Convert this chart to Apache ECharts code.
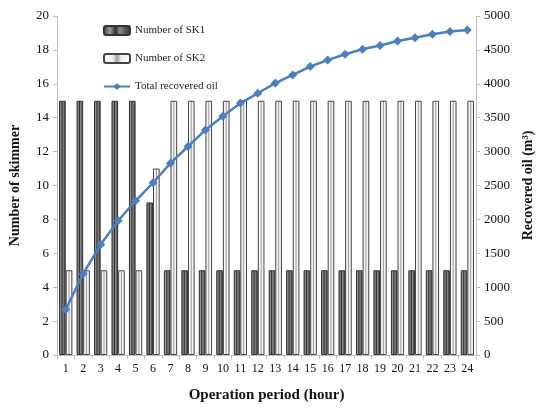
<!DOCTYPE html>
<html><head><meta charset="utf-8">
<script src="https://cdn.jsdelivr.net/npm/echarts@6/dist/echarts.min.js"></script>
<style>html,body{margin:0;padding:0;background:#fff}#c{width:543px;height:408px}</style>
</head><body><div id="c"></div>
<script>
const hours = ['1','2','3','4','5','6','7','8','9','10','11','12','13','14','15','16','17','18','19','20','21','22','23','24'];
const sk1 = [15,15,15,15,15,9,5,5,5,5,5,5,5,5,5,5,5,5,5,5,5,5,5,5];
const sk2 = [5,5,5,5,5,11,15,15,15,15,15,15,15,15,15,15,15,15,15,15,15,15,15,15];
const oil = [670,1200,1630,1980,2275,2540,2830,3075,3320,3520,3715,3860,4010,4130,4255,4350,4435,4510,4565,4630,4680,4730,4770,4795];
const leftTicks = [0,20,2];
const rightTicks = [0,5000,500];

const serif = '"Liberation Serif", "DejaVu Serif", serif';
const sk1Fill = {type:'linear',x:0,y:0,x2:1,y2:0,colorStops:[
  {offset:0,color:'#3a3a3a'},{offset:0.25,color:'#9a9a9a'},{offset:0.45,color:'#2e2e2e'},
  {offset:0.6,color:'#8a8a8a'},{offset:0.8,color:'#555'},{offset:1,color:'#3a3a3a'}]};
const sk2Fill = {type:'linear',x:0,y:0,x2:1,y2:0,colorStops:[
  {offset:0,color:'#ffffff'},{offset:0.35,color:'#f0f0f0'},{offset:0.5,color:'#a0a0a0'},
  {offset:0.65,color:'#f0f0f0'},{offset:1,color:'#ffffff'}]};

const chart = echarts.init(document.getElementById('c'));
chart.setOption({
  animation:false,
  grid:{left:54,right:62,top:16,bottom:52},
  legend:{
    orient:'vertical', left:98, top:20, itemGap:17, itemWidth:26, itemHeight:9,
    textStyle:{fontFamily:serif,fontSize:11,color:'#222'},
    data:['Number of SK1','Number of SK2','Total recovered oil']
  },
  xAxis:{
    type:'category', data:hours,
    name:'Operation period (hour)', nameLocation:'middle', nameGap:33,
    nameTextStyle:{fontFamily:serif,fontSize:15,fontWeight:'bold',color:'#111'},
    axisLine:{lineStyle:{color:'#bfbfbf'}},
    axisTick:{show:true,length:4,lineStyle:{color:'#bfbfbf'}},
    axisLabel:{fontFamily:serif,fontSize:12,color:'#111',interval:0,margin:8}
  },
  yAxis:[
    {type:'value',min:leftTicks[0],max:leftTicks[1],interval:leftTicks[2],
     name:'Number of skimmer',nameLocation:'middle',nameGap:35,nameRotate:90,
     nameTextStyle:{fontFamily:serif,fontSize:14,fontWeight:'bold',color:'#111'},
     axisLine:{show:true,lineStyle:{color:'#bfbfbf'}},
     axisTick:{show:true,length:4,lineStyle:{color:'#bfbfbf'}},
     splitLine:{show:false},
     axisLabel:{fontFamily:serif,fontSize:13,color:'#111',margin:8}},
    {type:'value',min:rightTicks[0],max:rightTicks[1],interval:rightTicks[2],position:'right',
     name:'Recovered oil (m³)',nameLocation:'middle',nameGap:42,nameRotate:90,
     nameTextStyle:{fontFamily:serif,fontSize:14,fontWeight:'bold',color:'#111'},
     axisLine:{show:true,lineStyle:{color:'#bfbfbf'}},
     axisTick:{show:true,length:4,lineStyle:{color:'#bfbfbf'}},
     splitLine:{show:false},
     axisLabel:{fontFamily:serif,fontSize:13,color:'#111',margin:8,formatter:function(v){return String(v);}}}
  ],
  series:[
    {name:'Number of SK1',type:'bar',data:sk1,barGap:'0%',barCategoryGap:'24%',
     itemStyle:{color:sk1Fill,borderColor:'#333',borderWidth:1}},
    {name:'Number of SK2',type:'bar',data:sk2,
     itemStyle:{color:sk2Fill,borderColor:'#444',borderWidth:1}},
    {name:'Total recovered oil',type:'line',yAxisIndex:1,data:oil,
     symbol:'diamond',symbolSize:9,
     lineStyle:{color:'#4a7fc1',width:2.5},
     itemStyle:{color:'#4a7fc1'}}
  ]
});
</script></body></html>
